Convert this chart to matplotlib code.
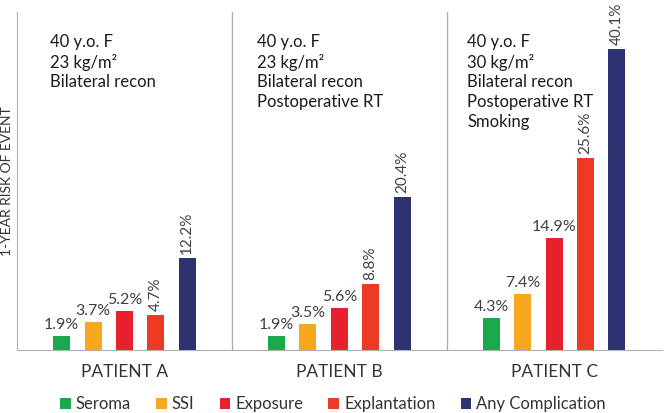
import numpy as np
import matplotlib.pyplot as plt

plt.rcParams['font.family'] = ['Lato', 'DejaVu Sans']

# data
patients = ['PATIENT A', 'PATIENT B', 'PATIENT C']
events = ['Seroma', 'SSI', 'Exposure', 'Explantation', 'Any Complication']
seroma = [1.9, 1.9, 4.3]
ssi = [3.7, 3.5, 7.4]
exposure = [5.2, 5.6, 14.9]
explantation = [4.7, 8.8, 25.6]
any_comp = [12.2, 20.4, 40.1]
profiles = [
    ['40 y.o. F', '23 kg/m²', 'Bilateral recon'],
    ['40 y.o. F', '23 kg/m²', 'Bilateral recon', 'Postoperative RT'],
    ['40 y.o. F', '30 kg/m²', 'Bilateral recon', 'Postoperative RT', 'Smoking'],
]

series = [seroma, ssi, exposure, explantation, any_comp]
colors = ['#1ba84a', '#f5a81f', '#e8202e', '#ec3a25', '#2d3170']
rotated = [False, False, False, True, True]

fig = plt.figure(figsize=(6.66, 4.13), dpi=100)
ax = fig.add_axes([0.0255, 0.1525, 0.968, 0.8185])

x = np.arange(len(patients))
step = 0.146
width = 0.079
for i, (vals, name) in enumerate(zip(series, events)):
    pos = x + (i - 2) * step
    bars = ax.bar(pos, vals, width, color=colors[i], label=name)
    for b, v in zip(bars, vals):
        if rotated[i]:
            ax.annotate(f'{v}%', (b.get_x() + b.get_width() / 2, v),
                        xytext=(0, 3), textcoords='offset points',
                        ha='center', va='bottom', rotation=90,
                        fontsize=11, color='#404040')
        else:
            ax.annotate(f'{v}%', (b.get_x() + b.get_width() / 2, v),
                        xytext=(0, 3), textcoords='offset points',
                        ha='center', va='bottom',
                        fontsize=11.5, color='#404040')

# patient descriptions
text_x = [-0.345, -0.385, -0.405]
for k, lines in enumerate(profiles):
    for j, line in enumerate(lines):
        ax.text(k + text_x[k], 41.0 - j * 2.67, line, ha='left', va='center',
                fontsize=12, color='#1a1a1a')

# separators
for s in [0.5, 1.5]:
    ax.axvline(s, color='#b0b0b0', lw=1)

ax.set_xlim(-0.5, 2.5)
ax.set_ylim(0, 45)
ax.set_xticks(x)
ax.set_xticklabels(patients, fontsize=12.5, color='#333333')
ax.tick_params(axis='x', length=0, pad=10)
ax.set_yticks([])
ax.set_ylabel('1-YEAR RISK OF EVENT', fontsize=10, color='#333333', labelpad=3)
for sp in ['top', 'right']:
    ax.spines[sp].set_visible(False)
ax.spines['left'].set_color('#b0b0b0')
ax.spines['bottom'].set_color('#b0b0b0')

fig.legend(loc='lower center', bbox_to_anchor=(0.5, -0.035), ncol=5, frameon=False,
           fontsize=12, handlelength=0.65, handleheight=0.65, handletextpad=0.3,
           columnspacing=1.5, labelcolor='#333333')

fig.savefig('out.png', dpi=100)
